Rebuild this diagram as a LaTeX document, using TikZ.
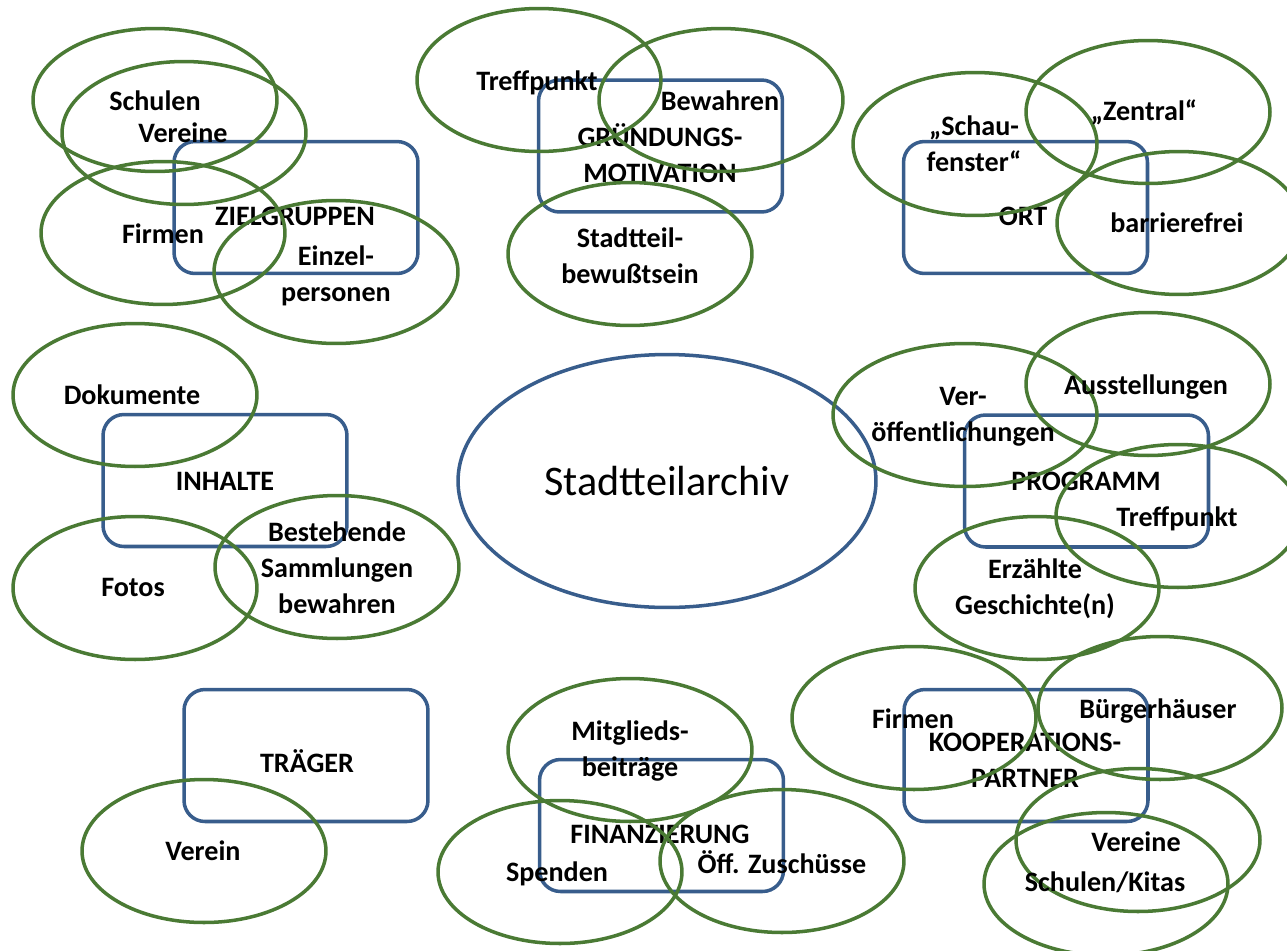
\documentclass[tikz,border=0pt]{standalone}
\usepackage{fontspec}
\setmainfont{Carlito}
\usetikzlibrary{shapes.geometric}
\definecolor{boxblue}{RGB}{56,93,140}
\definecolor{ovgreen}{RGB}{74,122,52}
\tikzset{
  box/.style={draw=boxblue, line width=2pt, rounded corners=0.42cm, minimum width=4.88cm, minimum height=2.64cm, inner sep=0pt},
  oval/.style={draw=ovgreen, line width=2pt, ellipse, minimum width=4.88cm, minimum height=2.86cm, inner sep=0pt},
  lbl/.style={font=\bfseries\fontsize{16}{20.4}\selectfont, align=center, inner sep=0pt},
}
\begin{document}
\begin{tikzpicture}[x=0.02cm, y=-0.02cm]
\useasboundingbox (0,0) rectangle (1287,950);
% central
\node[draw=boxblue, line width=2pt, ellipse, minimum width=8.36cm, minimum height=5.06cm, inner sep=0pt,
      font=\fontsize{24}{29}\selectfont] (center) at (667,481) {Stadtteilarchiv};
% boxes
\node[box] (rziel) at (296,207.5) {};
\node[box] (rgrund) at (660.5,146) {};
\node[box] (rort) at (1025.5,207.5) {};
\node[box] (rinh) at (225,480.5) {};
\node[box] (rprog) at (1086.5,481) {};
\node[box] (rtrag) at (306,755.5) {};
\node[box] (rfin) at (661.5,825.5) {};
\node[box] (rkoop) at (1026,755.5) {};
% box labels
\node[lbl] (tziel) at (295,216) {ZIELGRUPPEN};
\node[lbl] (tgrund) at (660,153) {GRÜNDUNGS-\\MOTIVATION};
\node[lbl] (tort) at (1023,216) {ORT};
\node[lbl] (tinh) at (225,481) {INHALTE};
\node[lbl] (tprog) at (1086,481) {PROGRAMM};
\node[lbl] (ttrag) at (307,761) {TRÄGER};
\node[lbl] (tfin) at (660,834) {FINANZIERUNG};
\node[lbl] (tkoop) at (1025,760) {KOOPERATIONS-\\PARTNER};
% ovals
\node[oval] (e1) at (155,100) {};
\node[oval] (e2) at (184,133) {};
\node[oval] (e3) at (163,233) {};
\node[oval] (e4) at (336,272) {};
\node[oval] (e5) at (539,80) {};
\node[oval] (e6) at (721,100) {};
\node[oval] (e7) at (630,254) {};
\node[oval] (e8) at (975,144) {};
\node[oval] (e9) at (1148,112) {};
\node[oval] (e10) at (1179,223) {};
\node[oval] (e11) at (135,395) {};
\node[oval] (e12) at (135,588) {};
\node[oval] (e13) at (337,567) {};
\node[oval, minimum width=5.28cm] (e14) at (965,415) {};
\node[oval] (e15) at (1148,384) {};
\node[oval] (e16) at (1178,516) {};
\node[oval] (e17) at (1037,588) {};
\node[oval] (e18) at (630,750) {};
\node[oval] (e19) at (560,872) {};
\node[oval] (e20) at (782,861) {};
\node[oval] (e21) at (914,718) {};
\node[oval] (e22) at (1160,708) {};
\node[oval] (e23) at (1138,840) {};
\node[oval] (e24) at (1106,884) {};
\node[oval] (e25) at (204,851) {};
% oval labels
\node[lbl] (l1) at (155,101) {Schulen};
\node[lbl] (l2) at (183,133) {Vereine};
\node[lbl] (l3) at (163,234) {Firmen};
\node[lbl] (l4) at (336,276) {Einzel-\\personen};
\node[lbl] (l5) at (537,83) {Treffpunkt};
\node[lbl] (l6) at (720,101) {Bewahren};
\node[lbl] (l7) at (630,256) {Stadtteil-\\bewußtsein};
\node[lbl] (l8) at (974,144) {„Schau-\\fenster“};
\node[lbl] (l9) at (1144,112) {„Zentral“};
\node[lbl] (l10) at (1177,223) {barrierefrei};
\node[lbl] (l11) at (132,395) {Dokumente};
\node[lbl] (l12) at (133,587) {Fotos};
\node[lbl] (l13) at (337,568) {Bestehende\\Sammlungen\\bewahren};
\node[lbl] (l14) at (963,417) {Ver-\\öffentlichungen};
\node[lbl] (l15) at (1146,387) {Ausstellungen};
\node[lbl] (l16) at (1177,519) {Treffpunkt};
\node[lbl] (l17) at (1035,589) {Erzählte\\Geschichte(n)};
\node[lbl] (l18) at (630,751) {Mitglieds-\\beiträge};
\node[lbl] (l19) at (557,874) {Spenden};
\node[lbl] (l20) at (782,862) {Öff. Zuschüsse};
\node[lbl] (l21) at (913,719) {Firmen};
\node[lbl] (l22) at (1158,711) {Bürgerhäuser};
\node[lbl] (l23) at (1136,842) {Vereine};
\node[lbl] (l24) at (1105,882) {Schulen/Kitas};
\node[lbl] (l25) at (203,851) {Verein};
\end{tikzpicture}
\end{document}
